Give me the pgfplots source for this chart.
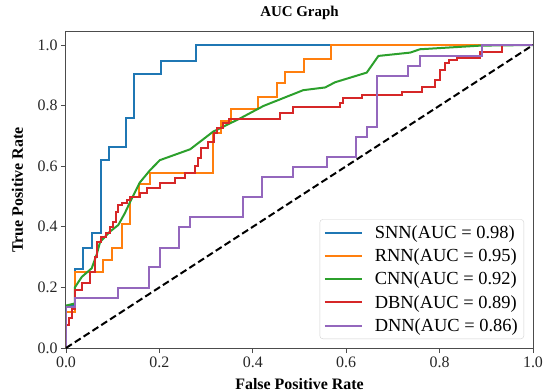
\documentclass[border=0pt]{standalone}
\usepackage{fontspec}
\setmainfont{Liberation Serif}
\usepackage{pgfplots}
\pgfplotsset{compat=1.18}
\definecolor{cSNN}{HTML}{1F77B4}
\definecolor{cRNN}{HTML}{FF7F0E}
\definecolor{cCNN}{HTML}{2CA02C}
\definecolor{cDBN}{HTML}{D62728}
\definecolor{cDNN}{HTML}{9467BD}
\begin{document}
\begin{tikzpicture}
\clip (-66bp,-44bp) rectangle (477bp,348bp);
\begin{axis}[
  scale only axis, width=467bp, height=316bp,
  xmin=0, xmax=1, ymin=0, ymax=1.043,
  xtick={0,0.2,0.4,0.6,0.8,1.0},
  ytick={0,0.2,0.4,0.6,0.8,1.0},
  /pgf/number format/assume math mode=true,
  /pgf/number format/fixed, /pgf/number format/fixed zerofill, /pgf/number format/precision=1,
  tick align=outside, tick pos=left, major tick length=5bp,
  tick style={gray!60!black, line width=0.8bp},
  axis line style={gray!60!black, line width=1bp},
  ticklabel style={font=\fontsize{16}{19}\selectfont, text=black!85},
  title={AUC Graph},
  title style={font=\fontsize{15}{18}\selectfont\bfseries, anchor=base, at={(0.5,1)}, yshift=10bp},
  xlabel={False Positive Rate},
  ylabel={True Positive Rate},
  every axis x label/.style={at={(axis description cs:0.5,0)}, anchor=base, yshift=-41bp, font=\fontsize{16}{19}\selectfont\bfseries},
  every axis y label/.style={at={(axis description cs:0,0.5)}, xshift=-48.5bp, rotate=90, anchor=center, font=\fontsize{16}{19}\selectfont\bfseries},
  legend cell align=left,
  legend image code/.code={\draw[#1, line width=2bp] (0bp,0bp) -- (37bp,0bp);},
  legend style={at={(rel axis cs:1,0)}, anchor=south east, xshift=-9bp, yshift=9bp,
    draw=black!18, rounded corners=3bp, fill=white, fill opacity=0.8, text opacity=1,
    font=\fontsize{18.5}{22}\selectfont, row sep=5bp, inner sep=4bp,
    /tikz/every odd column/.append style={column sep=10bp}},
  every axis plot post/.append style={line width=2bp},
]
\addplot[cSNN] coordinates {(0,0) (0,0.14) (0.019,0.14) (0.019,0.26) (0.037,0.26) (0.037,0.33) (0.055,0.33) (0.055,0.38) (0.074,0.38) (0.074,0.62) (0.093,0.62) (0.093,0.662) (0.128,0.662) (0.128,0.76) (0.146,0.76) (0.146,0.903) (0.203,0.903) (0.203,0.948) (0.278,0.948) (0.278,1.0) (1,1)};
\addlegendentry{SNN(AUC = 0.98)}
\addplot[cRNN] coordinates {(0,0) (0,0.12) (0.019,0.12) (0.019,0.25) (0.079,0.25) (0.079,0.29) (0.098,0.29) (0.098,0.33) (0.119,0.33) (0.119,0.41) (0.137,0.41) (0.137,0.50) (0.157,0.50) (0.157,0.54) (0.18,0.54) (0.18,0.579) (0.315,0.579) (0.315,0.708) (0.332,0.708) (0.332,0.75) (0.353,0.75) (0.353,0.788) (0.412,0.788) (0.412,0.83) (0.451,0.83) (0.451,0.874) (0.469,0.874) (0.469,0.912) (0.51,0.912) (0.51,0.953) (0.567,0.953) (0.567,1.0) (1,1)};
\addlegendentry{RNN(AUC = 0.95)}
\addplot[cCNN] coordinates {(0,0) (0,0.14) (0.019,0.147) (0.019,0.2) (0.034,0.235) (0.055,0.263) (0.066,0.31) (0.073,0.35) (0.094,0.384) (0.112,0.406) (0.126,0.445) (0.141,0.494) (0.158,0.546) (0.18,0.587) (0.201,0.62) (0.266,0.656) (0.315,0.714) (0.373,0.758) (0.423,0.799) (0.508,0.851) (0.555,0.86) (0.576,0.877) (0.644,0.909) (0.669,0.964) (0.737,0.975) (0.758,0.986) (0.887,0.998) (1,1)};
\addlegendentry{CNN(AUC = 0.92)}
\addplot[cDBN] coordinates {(0,0) (0,0.076) (0.006,0.076) (0.006,0.10) (0.012,0.10) (0.012,0.13) (0.019,0.13) (0.019,0.19) (0.034,0.19) (0.034,0.213) (0.051,0.213) (0.051,0.25) (0.062,0.25) (0.062,0.30) (0.066,0.30) (0.066,0.35) (0.075,0.35) (0.075,0.367) (0.085,0.367) (0.085,0.38) (0.094,0.38) (0.094,0.40) (0.101,0.40) (0.101,0.417) (0.108,0.417) (0.108,0.45) (0.112,0.45) (0.112,0.472) (0.119,0.472) (0.119,0.48) (0.13,0.48) (0.13,0.488) (0.137,0.488) (0.137,0.50) (0.158,0.50) (0.158,0.51) (0.173,0.51) (0.173,0.527) (0.201,0.527) (0.201,0.545) (0.233,0.545) (0.233,0.56) (0.255,0.56) (0.255,0.576) (0.276,0.576) (0.276,0.60) (0.283,0.60) (0.283,0.626) (0.29,0.626) (0.29,0.659) (0.305,0.659) (0.305,0.681) (0.316,0.681) (0.316,0.708) (0.323,0.708) (0.323,0.725) (0.337,0.725) (0.337,0.742) (0.348,0.742) (0.348,0.755) (0.458,0.755) (0.458,0.775) (0.487,0.775) (0.487,0.797) (0.587,0.797) (0.587,0.81) (0.594,0.81) (0.594,0.824) (0.633,0.824) (0.633,0.835) (0.719,0.835) (0.719,0.846) (0.762,0.846) (0.762,0.862) (0.79,0.862) (0.79,0.884) (0.801,0.884) (0.801,0.917) (0.812,0.917) (0.812,0.94) (0.82,0.94) (0.82,0.95) (0.837,0.95) (0.837,0.956) (0.887,0.956) (0.887,0.978) (0.933,0.978) (0.933,1.0) (1,1)};
\addlegendentry{DBN(AUC = 0.89)}
\addplot[cDNN] coordinates {(0,0) (0,0.135) (0.019,0.135) (0.019,0.164) (0.112,0.164) (0.112,0.197) (0.178,0.197) (0.178,0.266) (0.201,0.266) (0.201,0.329) (0.243,0.329) (0.243,0.40) (0.266,0.40) (0.266,0.431) (0.378,0.431) (0.378,0.50) (0.419,0.50) (0.419,0.566) (0.487,0.566) (0.487,0.599) (0.558,0.599) (0.558,0.632) (0.622,0.632) (0.622,0.698) (0.644,0.698) (0.644,0.731) (0.667,0.731) (0.667,0.898) (0.733,0.898) (0.733,0.931) (0.757,0.931) (0.757,0.964) (0.89,0.964) (0.89,1.0) (1,1)};
\addlegendentry{DNN(AUC = 0.86)}
\addplot[black, line width=1.6bp, dash pattern=on 7bp off 3.5bp, forget plot] coordinates {(0,0) (1,1)};
\end{axis}
\end{tikzpicture}
\end{document}
